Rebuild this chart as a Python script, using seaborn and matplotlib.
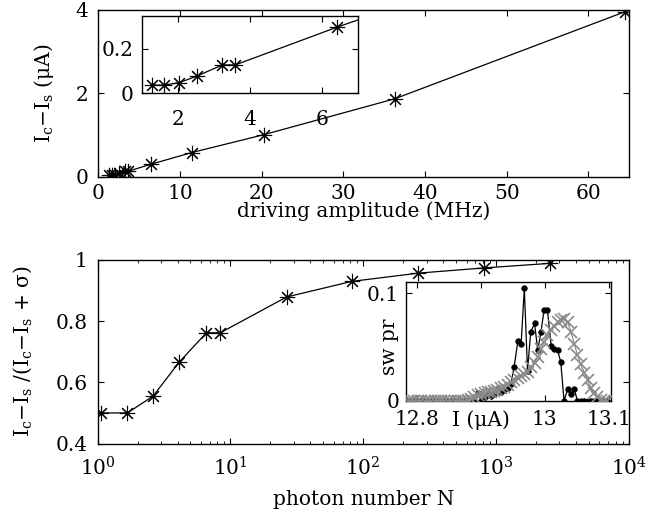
import numpy as np
import pandas as pd
import matplotlib
matplotlib.use('Agg')
import matplotlib.pyplot as plt
import seaborn as sns

# ---- data ----
amplitude_mhz = [1.28, 1.63, 2.04, 2.54, 3.24, 3.60, 6.42, 11.45, 20.3, 36.3, 64.5]
delta_i_ua = [0.037, 0.037, 0.048, 0.078, 0.128, 0.128, 0.298, 0.58, 1.01, 1.87, 3.96]

photon_n = [1.06, 1.68, 2.62, 4.1, 6.6, 8.4, 26.5, 82, 260, 810, 2560]
ratio = [0.5, 0.5, 0.555, 0.665, 0.762, 0.762, 0.879, 0.930, 0.957, 0.974, 0.989]

inset_current = [12.786, 12.791, 12.796, 12.802, 12.807, 12.812, 12.817, 12.822, 12.828, 12.833,
                 12.838, 12.843, 12.848, 12.854, 12.859, 12.864, 12.869, 12.874, 12.880, 12.885,
                 12.890, 12.895, 12.900, 12.906, 12.911, 12.916, 12.921, 12.926, 12.932, 12.937,
                 12.942, 12.947, 12.952, 12.958, 12.963, 12.968, 12.973, 12.978, 12.984, 12.989,
                 12.994, 12.999, 13.004, 13.010, 13.015, 13.020, 13.025, 13.030, 13.036, 13.041,
                 13.046, 13.051, 13.056, 13.062, 13.067, 13.072, 13.077, 13.082, 13.088, 13.093,
                 13.098]
sw_measured = [0, 0, 0, 0, 0, 0, 0, 0, 0, 0,
               0, 0, 0, 0, 0, 0, 0, 0, 0, 0,
               0, 0.007, 0.0, 0.003, 0.007, 0.004, 0.006, 0.011, 0.008, 0.010,
               0.012, 0.016, 0.031, 0.056, 0.053, 0.105, 0.028, 0.064, 0.072, 0.047,
               0.064, 0.085, 0.085, 0.051, 0.048, 0.047, 0.036, 0.0, 0.011, 0.006,
               0.011, 0, 0, 0, 0, 0, 0, 0, 0, 0,
               0]
sw_model = [0, 0, 0, 0, 0, 0, 0, 0, 0, 0,
            0, 0, 0, 0, 0, 0, 0, 0, 0.001, 0.002,
            0.003, 0.005, 0.006, 0.007, 0.008, 0.008, 0.009, 0.010, 0.012, 0.013,
            0.015, 0.017, 0.019, 0.021, 0.023, 0.025, 0.027, 0.031, 0.035, 0.041,
            0.048, 0.055, 0.061, 0.066, 0.070, 0.073, 0.075, 0.076, 0.073, 0.064,
            0.053, 0.043, 0.034, 0.026, 0.019, 0.012, 0.007, 0.003, 0.001, 0,
            0]

top_xticks = [0, 10, 20, 30, 40, 50, 60]
top_yticks = [0, 2, 4]
inset1_xticks = [2, 4, 6]
inset1_yticks = [0, 0.2]
bot_yticks = [0.4, 0.6, 0.8, 1.0]
bot_yticklabels = ['0.4', '0.6', '0.8', '1']
inset2_xticks = [12.8, 12.9, 13.0, 13.1]
inset2_xticklabels = ['12.8', 'I (μA)', '13', '13.1']
inset2_yticks = [0, 0.1]

# ---- style ----
sns.set_style('ticks')
plt.rcParams.update({
    'font.family': ['DejaVu Serif'],
    'mathtext.fontset': 'dejavuserif',
    'font.size': 14.5,
    'axes.labelsize': 14.5,
    'xtick.labelsize': 14.5,
    'ytick.labelsize': 14.5,
    'xtick.direction': 'in', 'ytick.direction': 'in',
    'xtick.top': True, 'ytick.right': True,
    'axes.linewidth': 1.0, 'axes.edgecolor': 'black',
    'xtick.color': 'black', 'ytick.color': 'black',
    'text.color': 'black', 'axes.labelcolor': 'black',
    'xtick.major.size': 4, 'ytick.major.size': 4,
    'xtick.minor.size': 2.2, 'ytick.minor.size': 2.2,
    'xtick.major.width': 0.8, 'ytick.major.width': 0.8,
    'xtick.minor.width': 0.6, 'ytick.minor.width': 0.6,
    'axes.facecolor': 'white',
})

star = (8, 2, 0)
line_kw = dict(color='black', linewidth=0.9, marker=star, markersize=11,
               markeredgecolor='black', markeredgewidth=0.8, errorbar=None)

fig = plt.figure(figsize=(6.48, 5.25), dpi=100)

# ---- top panel ----
ax1 = fig.add_axes([0.1517, 0.6634, 0.8194, 0.3176])
sns.lineplot(x=amplitude_mhz, y=delta_i_ua, ax=ax1, **line_kw)
ax1.set_xlim(0, 65)
ax1.set_ylim(0, 4)
ax1.set_xticks(top_xticks)
ax1.set_yticks(top_yticks)
ax1.tick_params(axis='x', pad=5)
ax1.tick_params(axis='y', pad=7)
ax1.set_xlabel('driving amplitude (MHz)', labelpad=-1)
ax1.set_ylabel(r'I$_{\rm c}$$-$I$_{\rm s}$ (μA)')
ax1.yaxis.set_label_coords(-0.08, 0.5)

ax1i = fig.add_axes([0.2187, 0.8223, 0.3333, 0.1478])
ax1i.set_facecolor('white')
sns.lineplot(x=amplitude_mhz, y=delta_i_ua, ax=ax1i, **line_kw)
ax1i.set_xlim(1, 7)
ax1i.set_ylim(0, 0.35)
ax1i.set_xticks(inset1_xticks)
ax1i.set_yticks(inset1_yticks)
ax1i.set_yticklabels(['0', '0.2'])
ax1i.tick_params(axis='x', pad=12)
ax1i.tick_params(axis='y', pad=6)

# ---- bottom panel ----
ax2 = fig.add_axes([0.1505, 0.1552, 0.8200, 0.3496])
sns.lineplot(x=photon_n, y=ratio, ax=ax2, **line_kw)
ax2.set_xscale('log')
ax2.set_xlim(1, 1e4)
ax2.set_ylim(0.4, 1.0)
ax2.set_yticks(bot_yticks)
ax2.set_yticklabels(bot_yticklabels)
ax2.tick_params(axis='x', pad=9)
ax2.tick_params(axis='y', pad=7)
ax2.set_xlabel('photon number N', labelpad=8)
ax2.set_ylabel(r'I$_{\rm c}$$-$I$_{\rm s}$ /(I$_{\rm c}$$-$I$_{\rm s}$ + σ)')
ax2.yaxis.set_label_coords(-0.12, 0.5)

ax2i = fig.add_axes([0.6265, 0.2368, 0.3159, 0.2267])
ax2i.set_facecolor('white')
sns.lineplot(x=inset_current, y=sw_measured, ax=ax2i, color='black', linewidth=0.9,
             marker='o', markersize=4, markeredgecolor='black', markeredgewidth=0.5,
             errorbar=None, zorder=2)
sns.lineplot(x=inset_current, y=sw_model, ax=ax2i, color='#8a8a8a', linewidth=0.9,
             marker='x', markersize=8.5, markeredgecolor='#8a8a8a', markeredgewidth=1.2,
             errorbar=None, zorder=3)
ax2i.set_xlim(12.783, 13.103)
ax2i.set_ylim(0, 0.111)
ax2i.set_xticks(inset2_xticks)
ax2i.set_xticklabels(inset2_xticklabels)
ax2i.set_yticks(inset2_yticks)
ax2i.set_yticklabels(['0', '0.1'])
ax2i.tick_params(axis='x', pad=7)
ax2i.tick_params(axis='y', pad=5)
ax2i.set_ylabel('sw pr')
ax2i.yaxis.set_label_coords(-0.035, 0.45)

fig.savefig('out.png', dpi=100)
